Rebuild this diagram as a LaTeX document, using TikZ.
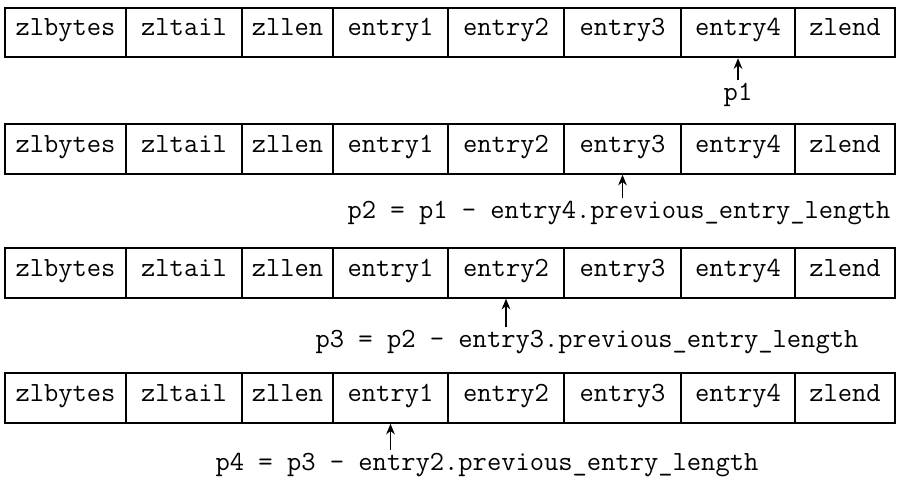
\documentclass[tikz,border=0pt]{standalone}
\usepackage{fontspec}
\usetikzlibrary{arrows.meta}

\begin{document}
\begin{tikzpicture}[x=0.75pt,y=0.75pt,yscale=-1,xscale=1,
    cell/.style={draw,line width=1.6pt,minimum height=37pt,inner sep=0pt,
      text height=1.6ex,text depth=0.4ex,
      font=\ttfamily\fontsize{20.8}{22}\selectfont},
    lbl/.style={inner sep=0pt,font=\ttfamily\fontsize{20.8}{22}\selectfont},
    ptr/.style={-{Stealth[length=8pt,width=6.5pt]},line width=1.1pt,shorten <=2pt}]
    \useasboundingbox (0,0) rectangle (903,482);
    % the four ziplists
    \foreach \r/\y in {1/32.5,2/149,3/273,4/398}{
      \foreach \n/\a/\b in {zlbytes/5/126,zltail/126/242,zllen/242/333,entry1/333/448,entry2/448/564,entry3/564/681,entry4/681/795,zlend/795/895}{
        \node[cell,minimum width={(\b-\a)*0.75pt}] (r\r-\n) at ({(\a+\b)/2},\y) {\n};
      }
    }
    % pointer labels
    \node[lbl] (p1) at (738,95) {p1};
    \node[lbl] (p2) at (619,213) {p2 = p1 - entry4.previous\_entry\_length};
    \node[lbl] (p3) at (587,342) {p3 = p2 - entry3.previous\_entry\_length};
    \node[lbl] (p4) at (487,465) {p4 = p3 - entry2.previous\_entry\_length};
    % pointers
    \draw[ptr] (r1-entry4.south |- p1.north) -- (r1-entry4.south);
    \draw[ptr] (r2-entry3.south |- p2.north) -- (r2-entry3.south);
    \draw[ptr] (r3-entry2.south |- p3.north) -- (r3-entry2.south);
    \draw[ptr] (r4-entry1.south |- p4.north) -- (r4-entry1.south);
\end{tikzpicture}
\end{document}
